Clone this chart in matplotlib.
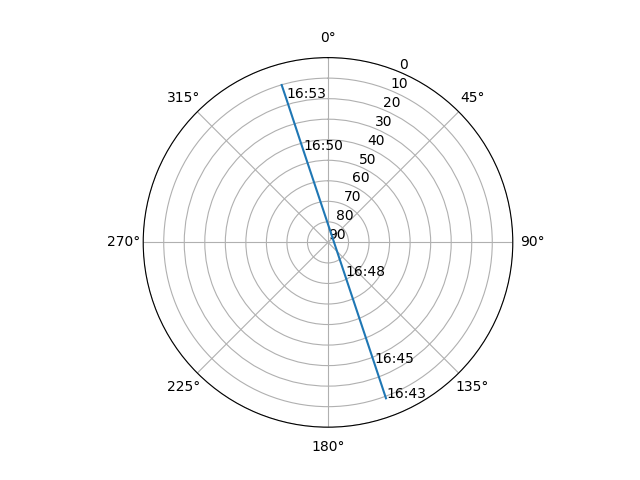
import numpy as np
import matplotlib
matplotlib.use("Agg")
import matplotlib.pyplot as plt

# satellite pass, azimuth (deg, clockwise from north) and elevation (deg)
azimuth = [159.6, 159.0, 152.8, 345.0, 343.8, 343.6]
elevation = [9.0, 27.3, 71.6, 43.4, 16.6, 10.1]
time_labels = ["16:43", "16:45", "16:48", "16:50", "16:53", None]

fig = plt.figure(figsize=(6.4, 4.8), dpi=100)
ax = fig.add_subplot(111, projection="polar")
ax.set_theta_zero_location("N")
ax.set_theta_direction(-1)

theta = np.radians(azimuth)
ax.plot(theta, elevation)
for t, e, lab in zip(theta, elevation, time_labels):
    if lab:
        ax.text(t, e, lab)

ax.set_ylim(90, 0)
ax.set_yticks(range(0, 91, 10))

fig.savefig("out.png", dpi=100)
